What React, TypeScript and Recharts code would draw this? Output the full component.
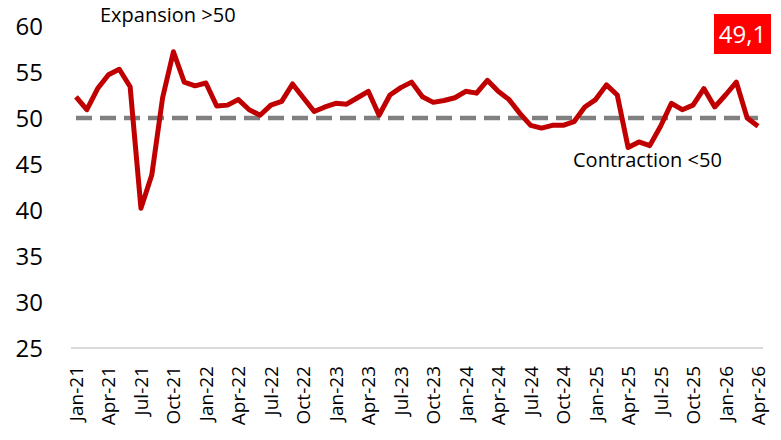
import React from 'react';
import { LineChart, Line, XAxis, YAxis, ReferenceLine } from 'recharts';

const months = ['Jan', 'Feb', 'Mar', 'Apr', 'May', 'Jun', 'Jul', 'Aug', 'Sep', 'Oct', 'Nov', 'Dec'];
const years = ['21', '22', '23', '24', '25', '26'];

const pmiValues = [
  52.3, 50.9, 53.2, 54.7, 55.3, 53.4, 40.2, 43.8, 52.2, 57.2, 53.9, 53.5,
  53.8, 51.3, 51.4, 52.0, 50.9, 50.3, 51.4, 51.8, 53.7, 52.2, 50.7, 51.2,
  51.6, 51.5, 52.2, 52.9, 50.3, 52.5, 53.3, 53.9, 52.3, 51.7, 51.9, 52.2,
  52.9, 52.7, 54.1, 52.9, 52.0, 50.5, 49.2, 48.9, 49.2, 49.2, 49.6, 51.2,
  52.0, 53.6, 52.5, 46.8, 47.4, 47.0, 49.1, 51.6, 50.9, 51.4, 53.2, 51.2,
  52.5, 53.9, 50.0, 49.1,
];

const yTicks = [25, 30, 35, 40, 45, 50, 55, 60];
const threshold = 50;
const lastLabel = '49,1';

const categories = pmiValues.map((_, i) => months[i % 12] + '-' + years[Math.floor(i / 12)]);
const data = categories.map((month, i) => ({ month, pmi: pmiValues[i] }));

const font = '"Open Sans", "Noto Sans", sans-serif';

const MonthTick = ({ x, y, payload }: any) => (
  <text
    x={x}
    y={y}
    transform={`rotate(-90, ${x}, ${y})`}
    dx={-10}
    dy={7}
    textAnchor="end"
    fontSize={19}
    fontFamily={font}
    fill="#000"
  >
    {payload.value}
  </text>
);

const App = () => {
  return (
    <div style={{ position: 'absolute', left: 0, top: 0, width: 781, height: 440, background: '#fff' }}>
      <LineChart width={781} height={440} data={data} margin={{ top: 26, right: 18, left: 0, bottom: 0 }}>
        <XAxis
          dataKey="month"
          interval={2}
          padding={{ left: 5, right: 5 }}
          tickLine={false}
          stroke="#d9d9d9"
          strokeWidth={2}
          tick={<MonthTick />}
          height={92}
        />
        <YAxis
          domain={[25, 60]}
          ticks={yTicks}
          axisLine={false}
          tickLine={false}
          tickSize={0}
          tickMargin={28}
          width={71}
          tick={{ fontSize: 24, fontFamily: font, fill: '#000' }}
        />
        <ReferenceLine
          segment={[
            { x: categories[0], y: threshold },
            { x: categories[categories.length - 1], y: threshold },
          ]}
          stroke="#808080"
          strokeWidth={4.5}
          strokeDasharray="16 8"
        />
        <Line
          type="linear"
          dataKey="pmi"
          stroke="#c00000"
          strokeWidth={5}
          strokeLinejoin="round"
          dot={false}
          activeDot={false}
          isAnimationActive={false}
        />
      </LineChart>
      <div style={{ position: 'absolute', left: 100, top: 1, fontFamily: font, fontSize: 20, color: '#000', whiteSpace: 'nowrap' }}>
        Expansion &gt;50
      </div>
      <div style={{ position: 'absolute', left: 573, top: 146, fontFamily: font, fontSize: 20, color: '#000', whiteSpace: 'nowrap' }}>
        Contraction &lt;50
      </div>
      <div
        style={{
          position: 'absolute',
          left: 714,
          top: 14,
          width: 57,
          height: 40,
          background: '#ff0000',
          color: '#fff',
          fontFamily: font,
          fontSize: 24,
          lineHeight: '40px',
          textAlign: 'center',
        }}
      >
        {lastLabel}
      </div>
    </div>
  );
};

export default App;
